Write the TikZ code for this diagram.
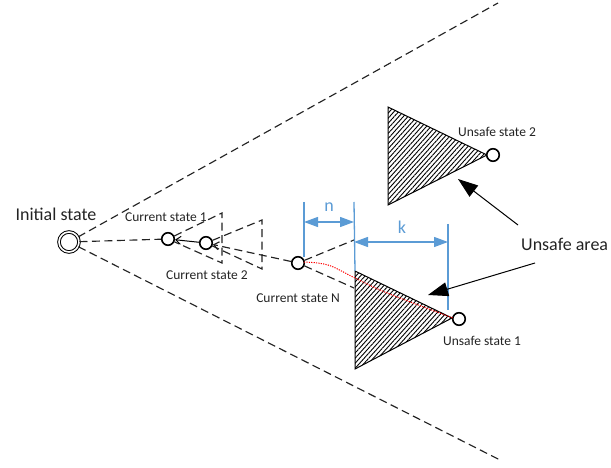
\documentclass[tikz,border=0pt]{standalone}
\usepackage{fontspec}
\setmainfont{Carlito}
\usetikzlibrary{arrows.meta,patterns.meta}
\definecolor{dimblue}{RGB}{91,155,213}
\definecolor{ink}{RGB}{35,35,35}
\begin{document}
\begin{tikzpicture}[x=1pt,y=-1pt,
  dashln/.style={draw=ink,line width=1.15pt,dash pattern=on 8pt off 4.5pt},
  state/.style={circle,draw=black,line width=1.6pt,fill=white,minimum size=12.5pt,inner sep=0pt},
  startstate/.style={circle,draw=black,line width=1pt,double=white,double distance=1.6pt,fill=white,minimum size=20pt,inner sep=0pt},
  small/.style={font=\fontsize{13.5}{15}\selectfont,text=ink,inner sep=0pt},
  big/.style={font=\fontsize{18}{20}\selectfont,text=ink,inner sep=0pt},
  dimlbl/.style={font=\fontsize{18}{20}\selectfont,text=dimblue,inner sep=0pt},
  hatched/.style={draw=black,line width=1pt,pattern={Lines[angle=48,distance=3.4pt,line width=0.9pt]}},
  dimln/.style={draw=dimblue,line width=1.3pt},
  dimarr/.style={dimln,{Triangle[length=14pt,width=10pt]}-{Triangle[length=14pt,width=10pt]}},
  bigarr/.style={draw=black,line width=1pt,-{Triangle[length=20pt,width=14pt]}},
  tip/.style={-{Straight Barb[length=5pt,width=8pt]}},
  reddot/.style={draw=red,line width=1pt,dash pattern=on 1.2pt off 1.2pt}
]
\useasboundingbox (0,0) rectangle (611,468);

% states
\node[startstate] (init) at (69,242) {};
\node[state] (s1) at (168,239) {};
\node[state] (s2) at (206,243) {};
\node[state] (sN) at (298,263) {};

% outer cone
\coordinate (coneup) at (498,3);
\coordinate (conedn) at (502,461);
\draw[dashln] (init) -- (coneup);
\draw[dashln] (init) -- (conedn);

% unsafe regions
\coordinate (u1a) at (355,271);
\coordinate (u1b) at (355,369);
\coordinate (u1c) at (452,318);
\coordinate (u2a) at (388,107);
\coordinate (u2b) at (388,205);
\coordinate (u2c) at (487,155);
\draw[hatched] (u1a) -- (u1c) -- (u1b) -- cycle;
\draw[hatched] (u2a) -- (u2c) -- (u2b) -- cycle;

% local reach cones
\coordinate (c1a) at (222,213);
\coordinate (c1b) at (222,263);
\coordinate (c2a) at (262,220);
\coordinate (c2b) at (262,269);
\coordinate (cNa) at (354,240);
\coordinate (cNb) at (354,288);
\draw[dashln] (s1) -- (c1a) -- (c1b) -- (s1);
\draw[dashln] (s2) -- (c2a) -- (c2b) -- (s2);
\draw[dashln] (sN) -- (cNa);
\draw[dashln] (sN) -- (cNb);

% trajectory
\draw[dashln] (init) -- (s1);
\draw[draw=black,line width=1pt,tip] (s2) -- (s1);
\draw[dashln,tip] (sN) -- (s2);

% dimensions n and k
\coordinate (d1t) at (304,202);
\coordinate (d1b) at (304,257);
\coordinate (d2t) at (354,202);
\coordinate (d3t) at (448,224);
\coordinate (d3b) at (448,310);
\draw[dimln] (d1t) -- (d1b);
\draw[dimln] (d2t) -- (u1a);
\draw[dimln] (d3t) -- (d3b);
\coordinate (n1) at (304,222);
\coordinate (n2) at (354,222);
\coordinate (k1) at (354,242);
\coordinate (k2) at (448,242);
\draw[dimarr] (n1) -- (n2);
\draw[dimarr] (k1) -- (k2);
\node[dimlbl] (nlbl) at (329,207) {n};
\node[dimlbl] (klbl) at (402,227) {k};

% unsafe states
\node[state] (us1) at (459,319) {};
\node[state] (us2) at (493,155) {};

% path into the unsafe area
\draw[reddot] plot[smooth,tension=0.6] coordinates {(304,262) (328,265) (353,277) (380,290) (413,303) (453,318)};

% labels
\node[big] (linit) at (56,214) {Initial state};
\node[small] (l1) at (166,217) {Current state 1};
\node[small] (l2) at (207,275) {Current state 2};
\node[small] (lN) at (298,298) {Current state N};
\node[small] (lu1) at (482,341) {Unsafe state 1};
\node[small] (lu2) at (497,132) {Unsafe state 2};
\node[big,anchor=west] (larea) at (521,244) {Unsafe area};

% pointers to the unsafe regions
\coordinate (p1s) at (518,225);
\coordinate (p1e) at (458,179);
\coordinate (p2s) at (535,263);
\coordinate (p2e) at (428,295);
\draw[bigarr] (p1s) -- (p1e);
\draw[bigarr] (p2s) -- (p2e);
\end{tikzpicture}
\end{document}
